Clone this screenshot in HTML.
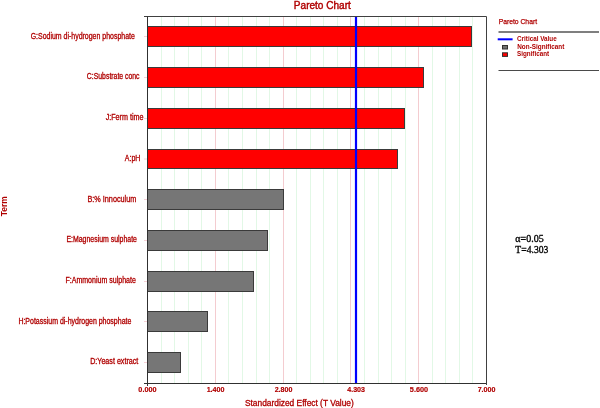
<!DOCTYPE html>
<html><head><meta charset="utf-8"><title>Pareto Chart</title><style>
html,body{margin:0;padding:0;background:#fff;width:600px;height:408px;overflow:hidden}
svg{display:block}
text{font-family:"Liberation Sans",Arial,sans-serif;fill:#b00000;stroke:#b00000;stroke-width:0.25px}
.lab{font-size:8.3px;stroke-width:0.3px}
.tick{font-size:7px;font-weight:bold;stroke-width:0.15px}
.axt{font-size:8.4px;stroke-width:0.3px}
.term{font-size:8.8px;font-weight:bold;stroke-width:0}
.title{font-size:10px;stroke-width:0.4px}
.lt{font-size:7.6px}
.lg{font-size:8px;font-weight:bold;stroke-width:0}
.ann{font-family:"Liberation Serif","Times New Roman",serif;font-size:9.5px;fill:#000;stroke:#000;stroke-width:0.3px}
</style></head><body>
<svg width="600" height="408" viewBox="0 0 600 408">
<rect width="600" height="408" fill="#fff"/>
<line x1="161.5" y1="16.5" x2="161.5" y2="383.5" stroke="#e2f8e6" stroke-width="1"/>
<line x1="174.5" y1="16.5" x2="174.5" y2="383.5" stroke="#e2f8e6" stroke-width="1"/>
<line x1="188.5" y1="16.5" x2="188.5" y2="383.5" stroke="#e2f8e6" stroke-width="1"/>
<line x1="201.5" y1="16.5" x2="201.5" y2="383.5" stroke="#e2f8e6" stroke-width="1"/>
<line x1="215.5" y1="16.5" x2="215.5" y2="383.5" stroke="#f4ccd0" stroke-width="1"/>
<line x1="228.5" y1="16.5" x2="228.5" y2="383.5" stroke="#e2f8e6" stroke-width="1"/>
<line x1="242.5" y1="16.5" x2="242.5" y2="383.5" stroke="#e2f8e6" stroke-width="1"/>
<line x1="256.5" y1="16.5" x2="256.5" y2="383.5" stroke="#e2f8e6" stroke-width="1"/>
<line x1="269.5" y1="16.5" x2="269.5" y2="383.5" stroke="#e2f8e6" stroke-width="1"/>
<line x1="283.5" y1="16.5" x2="283.5" y2="383.5" stroke="#f4ccd0" stroke-width="1"/>
<line x1="296.5" y1="16.5" x2="296.5" y2="383.5" stroke="#e2f8e6" stroke-width="1"/>
<line x1="310.5" y1="16.5" x2="310.5" y2="383.5" stroke="#e2f8e6" stroke-width="1"/>
<line x1="323.5" y1="16.5" x2="323.5" y2="383.5" stroke="#e2f8e6" stroke-width="1"/>
<line x1="337.5" y1="16.5" x2="337.5" y2="383.5" stroke="#e2f8e6" stroke-width="1"/>
<line x1="350.5" y1="16.5" x2="350.5" y2="383.5" stroke="#f4ccd0" stroke-width="1"/>
<line x1="364.5" y1="16.5" x2="364.5" y2="383.5" stroke="#e2f8e6" stroke-width="1"/>
<line x1="378.5" y1="16.5" x2="378.5" y2="383.5" stroke="#e2f8e6" stroke-width="1"/>
<line x1="391.5" y1="16.5" x2="391.5" y2="383.5" stroke="#e2f8e6" stroke-width="1"/>
<line x1="405.5" y1="16.5" x2="405.5" y2="383.5" stroke="#e2f8e6" stroke-width="1"/>
<line x1="418.5" y1="16.5" x2="418.5" y2="383.5" stroke="#f4ccd0" stroke-width="1"/>
<line x1="432.5" y1="16.5" x2="432.5" y2="383.5" stroke="#e2f8e6" stroke-width="1"/>
<line x1="445.5" y1="16.5" x2="445.5" y2="383.5" stroke="#e2f8e6" stroke-width="1"/>
<line x1="459.5" y1="16.5" x2="459.5" y2="383.5" stroke="#e2f8e6" stroke-width="1"/>
<line x1="472.5" y1="16.5" x2="472.5" y2="383.5" stroke="#e2f8e6" stroke-width="1"/>
<rect x="147.5" y="26.5" width="324.0" height="20.0" fill="#ff0000" stroke="#3a3a3a" stroke-width="1"/>
<line x1="144" y1="36.50" x2="147" y2="36.50" stroke="#f6d0d6" stroke-width="1"/>
<text x="30.65" y="38.80" textLength="104.20" lengthAdjust="spacingAndGlyphs" class="lab">G:Sodium di-hydrogen phosphate</text>
<rect x="147.5" y="67.5" width="276.0" height="20.0" fill="#ff0000" stroke="#3a3a3a" stroke-width="1"/>
<line x1="144" y1="77.50" x2="147" y2="77.50" stroke="#f6d0d6" stroke-width="1"/>
<text x="86.85" y="79.49" textLength="52.70" lengthAdjust="spacingAndGlyphs" class="lab">C:Substrate conc</text>
<rect x="147.5" y="108.5" width="257.0" height="20.0" fill="#ff0000" stroke="#3a3a3a" stroke-width="1"/>
<line x1="144" y1="118.50" x2="147" y2="118.50" stroke="#f6d0d6" stroke-width="1"/>
<text x="105.65" y="120.18" textLength="37.80" lengthAdjust="spacingAndGlyphs" class="lab">J:Ferm time</text>
<rect x="147.5" y="149.5" width="250.0" height="19.0" fill="#ff0000" stroke="#3a3a3a" stroke-width="1"/>
<line x1="144" y1="159.00" x2="147" y2="159.00" stroke="#f6d0d6" stroke-width="1"/>
<text x="124.85" y="160.87" textLength="15.60" lengthAdjust="spacingAndGlyphs" class="lab">A:pH</text>
<rect x="147.5" y="189.5" width="136.0" height="20.0" fill="#767676" stroke="#3a3a3a" stroke-width="1"/>
<line x1="144" y1="199.50" x2="147" y2="199.50" stroke="#f6d0d6" stroke-width="1"/>
<text x="87.45" y="201.56" textLength="48.90" lengthAdjust="spacingAndGlyphs" class="lab">B:% Innoculum</text>
<rect x="147.5" y="230.5" width="120.0" height="20.0" fill="#767676" stroke="#3a3a3a" stroke-width="1"/>
<line x1="144" y1="240.50" x2="147" y2="240.50" stroke="#f6d0d6" stroke-width="1"/>
<text x="66.45" y="242.25" textLength="70.50" lengthAdjust="spacingAndGlyphs" class="lab">E:Magnesium sulphate</text>
<rect x="147.5" y="271.5" width="106.0" height="20.0" fill="#767676" stroke="#3a3a3a" stroke-width="1"/>
<line x1="144" y1="281.50" x2="147" y2="281.50" stroke="#f6d0d6" stroke-width="1"/>
<text x="65.45" y="282.94" textLength="70.40" lengthAdjust="spacingAndGlyphs" class="lab">F:Ammonium sulphate</text>
<rect x="147.5" y="311.5" width="60.0" height="20.0" fill="#767676" stroke="#3a3a3a" stroke-width="1"/>
<line x1="144" y1="321.50" x2="147" y2="321.50" stroke="#f6d0d6" stroke-width="1"/>
<text x="18.40" y="323.63" textLength="112.95" lengthAdjust="spacingAndGlyphs" class="lab">H:Potassium di-hydrogen phosphate</text>
<rect x="147.5" y="352.5" width="33.0" height="20.0" fill="#767676" stroke="#3a3a3a" stroke-width="1"/>
<line x1="144" y1="362.50" x2="147" y2="362.50" stroke="#f6d0d6" stroke-width="1"/>
<text x="90.15" y="364.32" textLength="48.20" lengthAdjust="spacingAndGlyphs" class="lab">D:Yeast extract</text>
<line x1="356.0" y1="16.5" x2="356.0" y2="383.5" stroke="#0000ff" stroke-width="2.2"/>
<line x1="144" y1="16.5" x2="486.5" y2="16.5" stroke="#404040" stroke-width="1"/>
<line x1="144" y1="383.5" x2="487" y2="383.5" stroke="#303030" stroke-width="1"/>
<line x1="147.5" y1="16.5" x2="147.5" y2="386.0" stroke="#303030" stroke-width="1"/>
<line x1="486.5" y1="16.5" x2="486.5" y2="385.0" stroke="#404040" stroke-width="1"/>
<text x="138.35" y="391.80" textLength="18.20" lengthAdjust="spacingAndGlyphs" class="tick">0.000</text>
<text x="206.65" y="391.80" textLength="17.90" lengthAdjust="spacingAndGlyphs" class="tick">1.400</text>
<text x="274.65" y="391.80" textLength="17.70" lengthAdjust="spacingAndGlyphs" class="tick">2.800</text>
<text x="347.25" y="391.80" textLength="17.70" lengthAdjust="spacingAndGlyphs" class="tick">4.303</text>
<text x="409.85" y="391.80" textLength="18.20" lengthAdjust="spacingAndGlyphs" class="tick">5.600</text>
<text x="477.65" y="391.80" textLength="17.80" lengthAdjust="spacingAndGlyphs" class="tick">7.000</text>
<text x="244.95" y="405.90" textLength="108.80" lengthAdjust="spacingAndGlyphs" class="axt">Standardized Effect (T Value)</text>
<text transform="translate(6.9,216.2) rotate(-90)" x="0" y="0" textLength="19.9" lengthAdjust="spacingAndGlyphs" class="term">Term</text>
<text x="293.85" y="8.60" textLength="57.00" lengthAdjust="spacingAndGlyphs" class="title">Pareto Chart</text>
<text x="498.65" y="23.80" textLength="38.40" lengthAdjust="spacingAndGlyphs" class="lt">Pareto Chart</text>
<line x1="498.5" y1="32" x2="599" y2="32" stroke="#555" stroke-width="1.3"/>
<line x1="498.5" y1="70.5" x2="599" y2="70.5" stroke="#4a4a4a" stroke-width="1.2"/>
<line x1="497.7" y1="39.3" x2="512.6" y2="39.3" stroke="#0000ff" stroke-width="2"/>
<rect x="502.5" y="45.5" width="5" height="3.5" fill="#707070" stroke="#303030" stroke-width="1"/>
<rect x="502.5" y="52.8" width="5" height="3.6" fill="#ff0000" stroke="#303030" stroke-width="1"/>
<text x="517.05" y="41.00" textLength="39.60" lengthAdjust="spacingAndGlyphs" class="lg">Critical Value</text>
<text x="517.25" y="48.50" textLength="47.10" lengthAdjust="spacingAndGlyphs" class="lg">Non-Significant</text>
<text x="517.05" y="55.90" textLength="32.00" lengthAdjust="spacingAndGlyphs" class="lg">Significant</text>
<text x="515.35" y="241.70" textLength="28.30" lengthAdjust="spacingAndGlyphs" class="ann">&#945;=0.05</text>
<text x="515.35" y="253.00" textLength="33.00" lengthAdjust="spacingAndGlyphs" class="ann">T=4.303</text>
</svg>
</body></html>
